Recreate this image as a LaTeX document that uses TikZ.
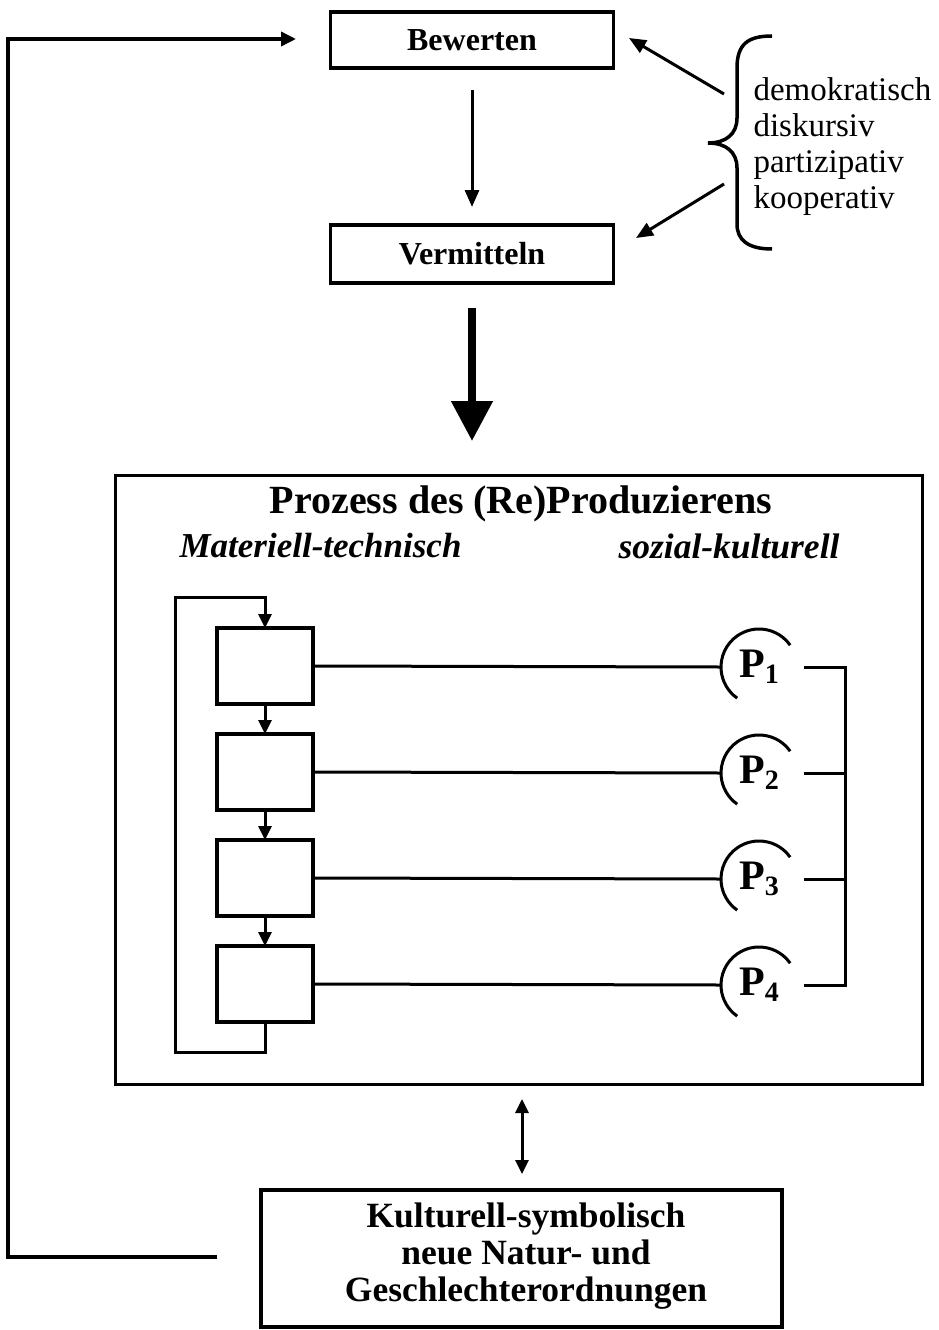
\documentclass[tikz,border=0pt]{standalone}
\usepackage{fontspec}
\setmainfont{Liberation Serif}
\usetikzlibrary{arrows.meta}

\begin{document}
\begin{tikzpicture}[x=1pt,y=1pt,
  box/.style={draw,line width=3.5pt,inner sep=0pt,outer sep=0pt},
  ln/.style={line width=3pt},
  tipa/.style={-{Triangle[length=17pt,width=14pt]}},
  tipb/.style={-{Triangle[length=14pt,width=13pt]}},
  labelfont/.style={font=\fontsize{32}{37}\selectfont\bfseries},
  pnode/.style={circle,minimum size=76pt,inner sep=0pt,outer sep=0pt,
                font=\fontsize{42}{42}\selectfont\bfseries},
  stage/.style={box,minimum width=96pt,minimum height=76pt},
]
\useasboundingbox (0,0) rectangle (939,-1330);

% evaluation and mediation
\node[box,minimum width=283pt,minimum height=56pt,labelfont] (bew) at (472,-40) {Bewerten};
\node[box,minimum width=283pt,minimum height=58pt,labelfont] (ver) at (472,-254) {Vermitteln};
\coordinate (bv1) at (472,-90);
\coordinate (bv2) at (472,-207);
\draw[ln,tipa] (bv1) -- (bv2);

% qualities of the procedure
\node[anchor=west,align=left,font=\fontsize{33}{36}\selectfont] (terms) at (750,-147)
  {demokratisch\\diskursiv\\partizipativ\\kooperativ};
\draw[line width=3.5pt]
  (772,-36) .. controls (748,-36) and (737,-44) .. (737,-68)
  -- (737,-118) .. controls (737,-134) and (726,-143) .. (708,-143)
  .. controls (726,-143) and (737,-152) .. (737,-168)
  -- (737,-224) .. controls (737,-240) and (748,-249) .. (772,-249);
\coordinate (q1) at (724,-94);
\coordinate (q2) at (629,-38);
\coordinate (q3) at (724,-184);
\coordinate (q4) at (636,-238);
\draw[ln,tipa] (q1) -- (q2);
\draw[ln,tipa] (q3) -- (q4);

% transition into production
\coordinate (th1) at (472,-308);
\coordinate (th2) at (472,-441);
\draw[line width=8pt,-{Triangle[length=40pt,width=40pt]}] (th1) -- (th2);

% production process
\node[draw,line width=3pt,minimum width=807pt,minimum height=609pt,inner sep=0pt] (proc) at (518.5,-779.5) {};
\node[font=\fontsize{40}{40}\selectfont\bfseries] (title) at (521,-504) {Prozess des (Re)Produzierens};
\node[anchor=west,font=\fontsize{35}{35}\selectfont\bfseries\itshape] (mat) at (176,-546) {Materiell-technisch};
\node[anchor=east,font=\fontsize{35.5}{35.5}\selectfont\bfseries\itshape] (soz) at (843,-546) {sozial-kulturell};

\node[stage] (b1) at (265,-666) {};
\node[stage] (b2) at (265,-772) {};
\node[stage] (b3) at (265,-878) {};
\node[stage] (b4) at (265,-984) {};
\draw[ln,tipb] (b1.south) -- (b2.north);
\draw[ln,tipb] (b2.south) -- (b3.north);
\draw[ln,tipb] (b3.south) -- (b4.north);
\coordinate (lb) at (175,-1052);
\coordinate (lt) at (175,-597);
\draw[ln,tipb] (b4.south) |- (lb) -- (lt) -| (b1.north);

\node[pnode] (p1) at (759,-667) {P\raisebox{-6pt}{\fontsize{28}{28}\selectfont 1}};
\node[pnode] (p2) at (759,-773) {P\raisebox{-6pt}{\fontsize{28}{28}\selectfont 2}};
\node[pnode] (p3) at (759,-879) {P\raisebox{-6pt}{\fontsize{28}{28}\selectfont 3}};
\node[pnode] (p4) at (759,-985) {P\raisebox{-6pt}{\fontsize{28}{28}\selectfont 4}};
\foreach \p in {p1,p2,p3,p4}{
  \draw[ln] (\p.35) arc[start angle=35,end angle=235,radius=38pt];
}
\draw[ln] (b1.east) -- (p1.west);
\draw[ln] (b2.east) -- (p2.west);
\draw[ln] (b3.east) -- (p3.west);
\draw[ln] (b4.east) -- (p4.west);

\coordinate (s1) at (804,-667);
\coordinate (s2) at (804,-773);
\coordinate (s3) at (804,-879);
\coordinate (s4) at (804,-985);
\coordinate (j1) at (845,-667);
\coordinate (j2) at (845,-773);
\coordinate (j3) at (845,-879);
\coordinate (j4) at (845,-985);
\draw[ln] (s1) -- (j1) -- (j4) -- (s4);
\draw[ln] (s2) -- (j2);
\draw[ln] (s3) -- (j3);

% symbolic-cultural orders
\coordinate (d1) at (522,-1099);
\coordinate (d2) at (522,-1174);
\draw[ln,{Triangle[length=14pt,width=13pt]}-{Triangle[length=14pt,width=13pt]}] (d1) -- (d2);
\node[box,minimum width=521pt,minimum height=137pt] (kult) at (521.5,-1258.5) {};
\node[align=center,font=\fontsize{35.5}{37}\selectfont\bfseries] (kulttext) at (526,-1256)
  {Kulturell-symbolisch\\neue Natur- und\\Geschlechterordnungen};

% feedback to evaluation
\coordinate (f0) at (217,-1257);
\coordinate (f1) at (8,-1257);
\coordinate (f2) at (8,-39);
\coordinate (f3) at (296,-39);
\draw[line width=3.5pt,-{Triangle[length=15pt,width=14pt]}] (f0) -- (f1) -- (f2) -- (f3);
\end{tikzpicture}
\end{document}
